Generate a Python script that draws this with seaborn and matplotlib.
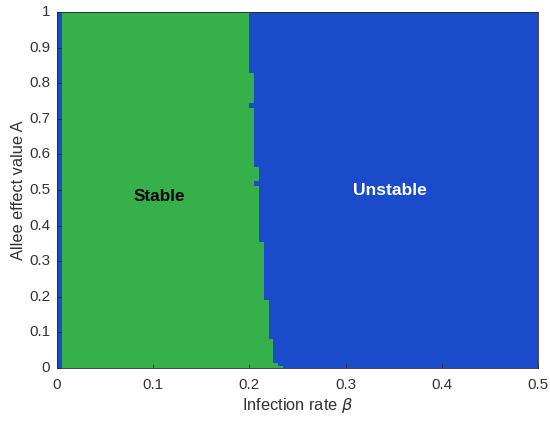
import numpy as np
import pandas as pd
import matplotlib.pyplot as plt
from matplotlib.colors import ListedColormap
import seaborn as sns

# stability boundary: for A in [a_low, a_high) the
# equilibrium is stable for 0.005 <= beta < beta_crit
a_low = [0.0, 0.005, 0.015, 0.08, 0.19, 0.355, 0.51, 0.525, 0.565, 0.73, 0.745, 0.83]
a_high = [0.005, 0.015, 0.08, 0.19, 0.355, 0.51, 0.525, 0.565, 0.73, 0.745, 0.83, 1.0]
beta_crit = [0.235, 0.23, 0.225, 0.22, 0.215, 0.21, 0.205, 0.21, 0.205, 0.2, 0.205, 0.2]
beta_min = 0.005

x_ticks = [0, 0.1, 0.2, 0.3, 0.4, 0.5]
x_labels = ["0", "0.1", "0.2", "0.3", "0.4", "0.5"]
y_ticks = [0, 0.1, 0.2, 0.3, 0.4, 0.5, 0.6, 0.7, 0.8, 0.9, 1]
y_labels = ["0", "0.1", "0.2", "0.3", "0.4", "0.5", "0.6", "0.7", "0.8", "0.9", "1"]

step = 0.005
beta = np.arange(0, 0.5, step)
A = np.arange(0, 1.0, step)

# build the stability grid (1 = stable, 0 = unstable)
grid = np.zeros((len(A), len(beta)))
for i, a in enumerate(A + step / 2):
    for lo, hi, bc in zip(a_low, a_high, beta_crit):
        if lo <= a < hi:
            grid[i] = ((beta >= beta_min - 1e-9) & (beta < bc - 1e-9)).astype(float)
df = pd.DataFrame(grid, index=np.round(A, 3), columns=np.round(beta, 3))

blue = "#1a4bcb"
green = "#35b04b"
txt = "#333333"

fig = plt.figure(figsize=(5.5, 4.21), dpi=100)
ax = fig.add_axes([0.1036, 0.126, 0.8745, 0.8455])
sns.heatmap(df, cmap=ListedColormap([blue, green]), vmin=0, vmax=1,
            cbar=False, ax=ax)
ax.invert_yaxis()

for s in ax.spines.values():
    s.set_visible(True)
    s.set_color("#262626")
    s.set_linewidth(0.6)

ax.set_xticks(np.array(x_ticks) / step)
ax.set_xticklabels(x_labels, rotation=0)
ax.set_yticks(np.array(y_ticks) / step)
ax.set_yticklabels(y_labels, rotation=0)
ax.tick_params(direction="in", length=3, width=0.6, colors="#262626",
               labelsize=11, labelcolor=txt)
ax.tick_params(axis="x", pad=7)
ax.tick_params(axis="y", pad=5)
for lab in ax.get_xticklabels() + ax.get_yticklabels():
    lab.set_family("Liberation Sans")

ax.set_xlabel(r"Infection rate $\beta$", fontsize=11.8, color=txt,
              family="Liberation Sans", labelpad=3)
ax.set_ylabel("Allee effect value A", fontsize=11.8, color=txt,
              family="Liberation Sans", labelpad=2)

ax.text(0.106 / step, 0.482 / step, "Stable", color="black", fontsize=12.3,
        fontweight="bold", family="Liberation Sans", ha="center", va="center")
ax.text(0.346 / step, 0.498 / step, "Unstable", color="white", fontsize=12.6,
        fontweight="bold", family="Liberation Sans", ha="center", va="center")

fig.savefig("out.png", dpi=100)
